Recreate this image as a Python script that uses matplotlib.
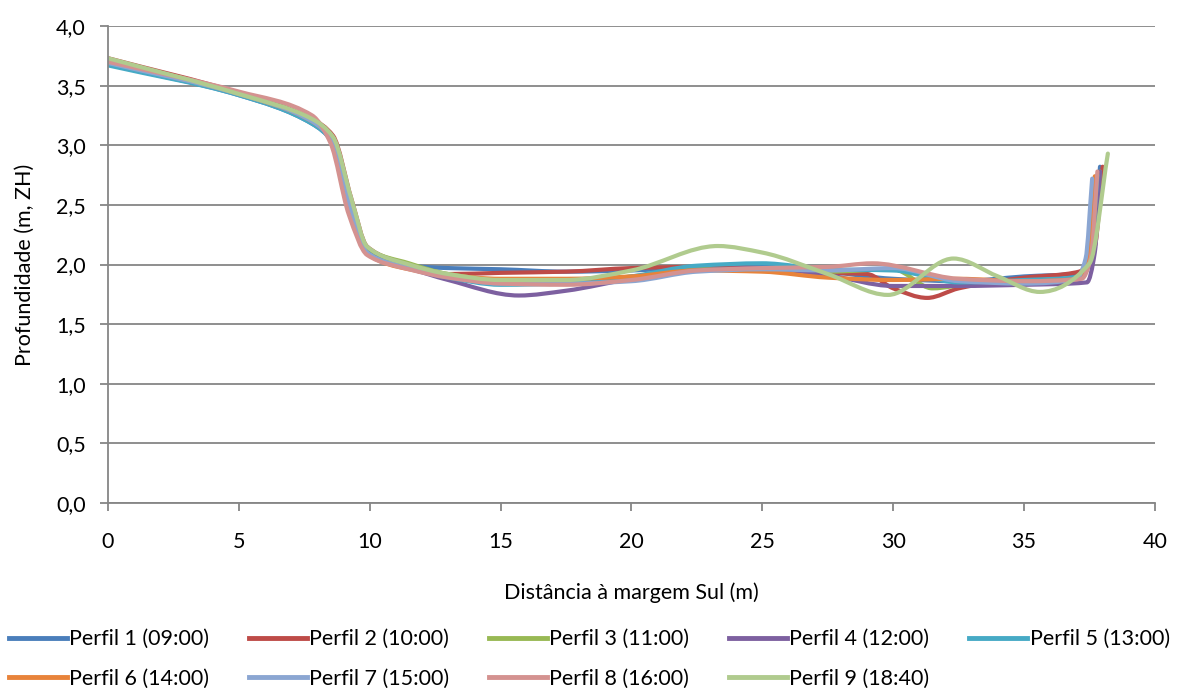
import matplotlib
matplotlib.use("Agg")
import matplotlib.pyplot as plt
import numpy as np
from matplotlib.path import Path
from matplotlib.patches import PathPatch
from matplotlib.lines import Line2D
from matplotlib.ticker import FuncFormatter, MultipleLocator

plt.rcParams['font.family'] = ['Lato', 'DejaVu Sans']

labels = ["Perfil 1 (09:00)", "Perfil 2 (10:00)", "Perfil 3 (11:00)", "Perfil 4 (12:00)",
          "Perfil 5 (13:00)", "Perfil 6 (14:00)", "Perfil 7 (15:00)", "Perfil 8 (16:00)",
          "Perfil 9 (18:40)"]
colors = ["#4A7EBB", "#BE4B48", "#98B954", "#7D60A0", "#46AAC5", "#E8833A",
          "#8BA6D2", "#D49290", "#B0CB8E"]

x1 = [0, 5, 7.8, 8.6, 9.3, 9.9, 11.5, 13, 15, 17.5, 20, 22.5, 25, 27.5, 30, 32.5, 35, 37.2, 37.6, 37.9]
y1 = [3.68, 3.42, 3.18, 3.02, 2.45, 2.13, 1.99, 1.97, 1.96, 1.94, 1.95, 1.98, 1.99, 1.94, 1.88, 1.86, 1.90, 1.93, 2.10, 2.82]

x2 = [0, 5, 7.8, 8.6, 9.3, 9.9, 11.5, 13, 15, 17.5, 20, 22.5, 25, 27.5, 29, 30, 31.3, 32.5, 35, 37.1, 37.7, 38.0]
y2 = [3.73, 3.44, 3.22, 3.08, 2.55, 2.15, 2.00, 1.92, 1.93, 1.94, 1.97, 1.98, 1.97, 1.93, 1.92, 1.80, 1.72, 1.80, 1.89, 1.94, 2.15, 2.82]

x3 = [0, 5, 7.8, 8.6, 9.3, 9.9, 11.5, 13, 15, 17.5, 20, 22.5, 25, 27.5, 30, 31.5, 33, 35, 37.2, 37.6, 37.9]
y3 = [3.71, 3.43, 3.20, 3.05, 2.50, 2.14, 2.01, 1.92, 1.87, 1.86, 1.90, 1.96, 1.96, 1.94, 1.96, 1.80, 1.84, 1.86, 1.90, 2.08, 2.78]

x4 = [0, 5, 7.8, 8.6, 9.3, 9.9, 11.5, 13, 15.7, 17.5, 20, 22.5, 25, 27.5, 30, 32.5, 35, 37.4, 37.7, 37.9]
y4 = [3.70, 3.43, 3.20, 3.03, 2.45, 2.10, 1.97, 1.87, 1.74, 1.78, 1.88, 1.95, 1.97, 1.91, 1.82, 1.82, 1.83, 1.85, 2.10, 2.78]

x5 = [0, 5, 7.8, 8.6, 9.3, 9.9, 11.5, 13, 15, 17.5, 20, 22.5, 25, 27.5, 30, 32.5, 35, 37.2, 37.55, 37.8]
y5 = [3.67, 3.42, 3.18, 3.02, 2.45, 2.10, 1.97, 1.89, 1.83, 1.84, 1.90, 1.99, 2.01, 1.96, 1.95, 1.85, 1.87, 1.90, 2.08, 2.75]

x6 = [0, 5, 7.8, 8.6, 9.3, 9.9, 11.5, 13, 15, 17.5, 20, 22.5, 25, 27.5, 30, 32.5, 35, 37.1, 37.45, 37.7]
y6 = [3.70, 3.43, 3.20, 3.03, 2.45, 2.09, 1.96, 1.91, 1.88, 1.88, 1.90, 1.95, 1.94, 1.89, 1.87, 1.88, 1.86, 1.88, 2.06, 2.74]

x7 = [0, 5, 7.8, 8.6, 9.3, 9.9, 11.5, 13, 15, 17.5, 20, 22.5, 25, 27.5, 30, 32.5, 35, 37.0, 37.35, 37.6]
y7 = [3.69, 3.43, 3.20, 3.03, 2.45, 2.10, 1.97, 1.90, 1.84, 1.84, 1.86, 1.94, 1.96, 1.95, 1.97, 1.86, 1.84, 1.88, 2.05, 2.72]

x8 = [0, 5, 7.8, 8.5, 9.2, 9.9, 11.5, 13, 15, 17.5, 20, 22.5, 25, 27.5, 29.2, 32.5, 35, 37.2, 37.55, 37.8]
y8 = [3.70, 3.45, 3.25, 3.02, 2.42, 2.08, 1.96, 1.89, 1.84, 1.83, 1.87, 1.95, 1.97, 1.98, 2.01, 1.88, 1.86, 1.88, 2.06, 2.78]

x9 = [0, 5, 7.8, 8.6, 9.3, 9.9, 11.5, 13, 15, 17.5, 20, 23.3, 25, 27.5, 29.8, 32.3, 34, 35.6, 37.5, 38.2]
y9 = [3.73, 3.43, 3.22, 3.07, 2.55, 2.15, 2.00, 1.92, 1.87, 1.87, 1.95, 2.155, 2.10, 1.92, 1.745, 2.05, 1.90, 1.77, 2.01, 2.93]

xs = [x1, x2, x3, x4, x5, x6, x7, x8, x9]
ys = [y1, y2, y3, y4, y5, y6, y7, y8, y9]


def smooth_path(x, y):
    # smoothed line: shape-preserving cubic Bezier segments through the data points
    x = np.asarray(x, float)
    y = np.asarray(y, float)
    n = len(x)
    h = np.diff(x)
    d = np.diff(y) / h
    m = np.zeros(n)
    m[0], m[-1] = d[0], d[-1]
    for i in range(1, n - 1):
        if d[i - 1] * d[i] > 0:
            w1 = 2 * h[i] + h[i - 1]
            w2 = h[i] + 2 * h[i - 1]
            m[i] = (w1 + w2) / (w1 / d[i - 1] + w2 / d[i])
    verts = [(x[0], y[0])]
    codes = [Path.MOVETO]
    for i in range(n - 1):
        verts += [(x[i] + h[i] / 3, y[i] + m[i] * h[i] / 3),
                  (x[i + 1] - h[i] / 3, y[i + 1] - m[i + 1] * h[i] / 3),
                  (x[i + 1], y[i + 1])]
        codes += [Path.CURVE4] * 3
    return Path(verts, codes)


fig = plt.figure(figsize=(11.8, 6.88), dpi=100)
ax = fig.add_axes([0.0915, 0.2689, 0.8873, 0.6933])

ax.set_xlim(0, 40)
ax.set_ylim(0, 4.0)
ax.xaxis.set_major_locator(MultipleLocator(5))
ax.yaxis.set_major_locator(MultipleLocator(0.5))
ax.yaxis.set_major_formatter(FuncFormatter(lambda v, p: f"{v:.1f}".replace(".", ",")))
ax.xaxis.set_major_formatter(FuncFormatter(lambda v, p: f"{v:.0f}"))

ax.grid(axis='y', color='#868686', linewidth=1.3)
ax.set_axisbelow(True)
for s in ['top', 'right']:
    ax.spines[s].set_visible(False)
for s in ['left', 'bottom']:
    ax.spines[s].set_color('#868686')
    ax.spines[s].set_linewidth(1.3)
ax.tick_params(axis='both', colors='#868686', length=6, width=1.3, labelsize=15.5,
               labelcolor='black')
ax.tick_params(axis='x', pad=15)
ax.tick_params(axis='y', pad=10)

for x, y, c in zip(xs, ys, colors):
    ax.add_patch(PathPatch(smooth_path(x, y), fill=False, edgecolor=c, linewidth=3.0,
                           capstyle='round', joinstyle='round'))

ax.set_ylabel("Profundidade (m, ZH)", fontsize=15.5, labelpad=15)
ax.set_xlabel("Distância à margem Sul (m)", fontsize=15.5, labelpad=22)

handles = [Line2D([0], [0], color=c, linewidth=3.5) for c in colors]
order = [0, 5, 1, 6, 2, 7, 3, 8, 4]
fig.legend([handles[i] for i in order], [labels[i] for i in order], ncol=5,
           loc='lower left', bbox_to_anchor=(0.0, -0.014),
           frameon=False, fontsize=15.5, handlelength=2.7, handletextpad=0.1,
           columnspacing=1.85, labelspacing=0.92, borderaxespad=0.0)

fig.savefig("out.png", dpi=100)
